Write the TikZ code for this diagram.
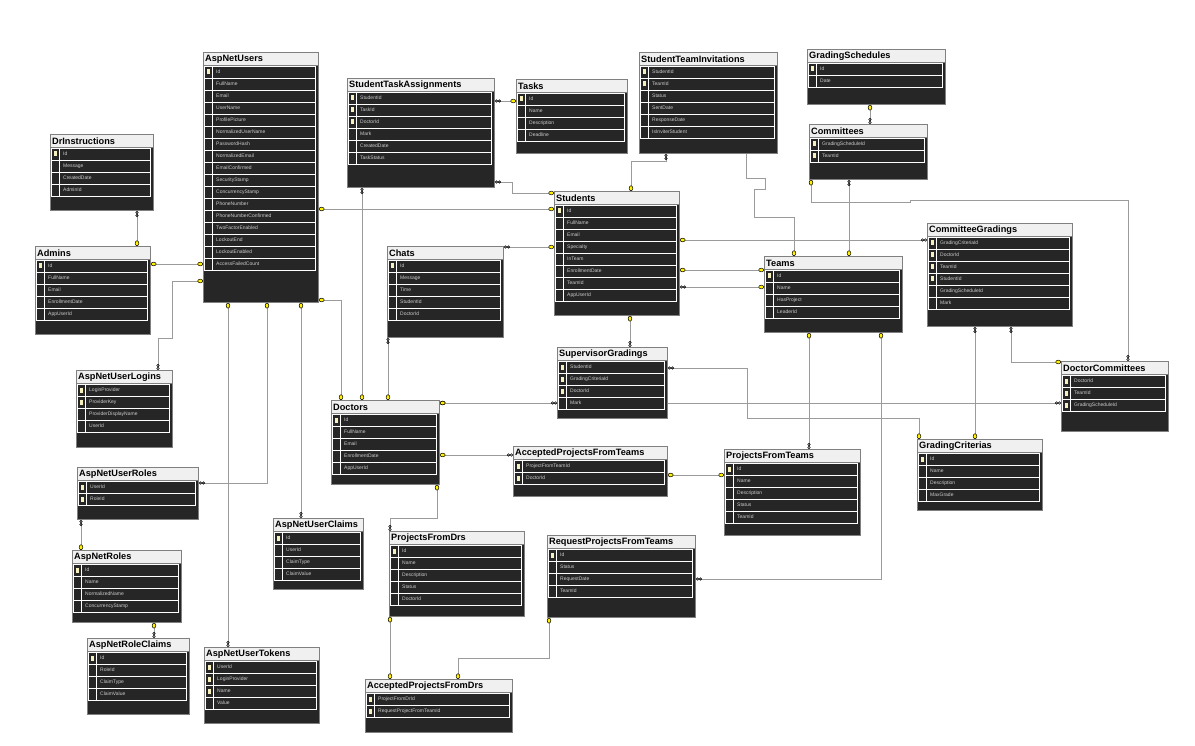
\documentclass[tikz,border=0pt]{standalone}
\usepackage{fontspec}
\setmainfont{Liberation Sans}
\usepackage{tikz}
\usetikzlibrary{arrows.meta, backgrounds}
\definecolor{tblbg}{RGB}{38,38,38}
\definecolor{tblgray}{RGB}{128,128,128}
\definecolor{headbg}{RGB}{240,240,240}
\definecolor{relgray}{RGB}{155,155,155}
\definecolor{rowtxt}{RGB}{205,205,205}
\definecolor{keyfill}{RGB}{245,240,190}
\definecolor{keyyellow}{RGB}{255,240,0}

\tikzset{
  keytip/.tip={Ellipse[length=5.5pt,width=4.2pt,color=black,fill=keyyellow,line width=0.5pt]},
  manytip/.tip={Circle[open,length=3pt,color=black,line width=0.55pt] Circle[open,length=3pt,color=black,line width=0.55pt]}
}

% one database table: name, x, y (top), width, height, title, rows (key/field)
\newcommand{\dbtable}[7]{%
  \node[tblbody, minimum width=#4, minimum height=#5] (#1) at (#2,#3) {};
  \filldraw[tblhead] (#2,#3) rectangle ++(#4,13);
  \node[tbltitle] (#1-t) at (#2+2,#3+7) {#6};
  \foreach \rk/\rn [count=\ri] in {#7} {
    \draw[rowline] (#2+1.5,{#3+14+(\ri-1)*12}) rectangle ++(#4-4,12);
    \draw[rowline] (#2+9.5,{#3+14+(\ri-1)*12}) -- ++(0,12);
    \ifnum\rk=1
      \fill[keyfill] (#2+4,{#3+17.5+(\ri-1)*12}) rectangle ++(3,5);
    \fi
    \node[rowtext] at (#2+13,{#3+20+(\ri-1)*12}) {\rn};
  }
}

\begin{document}
\begin{tikzpicture}[
    x=1pt, y=-1pt,
    tblbody/.style={
        anchor=north west,
        draw=tblgray,
        fill=tblbg,
        line width=0.9pt,
        inner sep=0pt
      },
    tblhead/.style={
        draw=tblgray,
        fill=headbg,
        line width=0.9pt
      },
    tbltitle/.style={
        anchor=west,
        inner sep=0pt,
        font=\fontsize{9.2}{10}\selectfont\bfseries,
        text=black
      },
    rowline/.style={draw=white, line width=0.6pt},
    rowtext/.style={
        anchor=west,
        inner sep=0pt,
        font=\fontsize{5}{6}\selectfont,
        text=rowtxt
      },
    rel/.style={draw=relgray, line width=0.8pt}
  ]
  \useasboundingbox (0,0) rectangle (1195,746);

  % identity tables
  \dbtable{users}{203}{52}{115}{250}{AspNetUsers}{1/Id, 0/FullName, 0/Email, 0/UserName, 0/ProfilePicture, 0/NormalizedUserName, 0/PasswordHash, 0/NormalizedEmail, 0/EmailConfirmed, 0/SecurityStamp, 0/ConcurrencyStamp, 0/PhoneNumber, 0/PhoneNumberConfirmed, 0/TwoFactorEnabled, 0/LockoutEnd, 0/LockoutEnabled, 0/AccessFailedCount}
  \dbtable{logins}{76}{370}{96}{77}{AspNetUserLogins}{1/LoginProvider, 1/ProviderKey, 0/ProviderDisplayName, 0/UserId}
  \dbtable{uroles}{77}{467}{121}{52}{AspNetUserRoles}{1/UserId, 1/RoleId}
  \dbtable{roles}{72}{550}{109}{72}{AspNetRoles}{1/Id, 0/Name, 0/NormalizedName, 0/ConcurrencyStamp}
  \dbtable{rclaims}{87}{638}{102}{76}{AspNetRoleClaims}{1/Id, 0/RoleId, 0/ClaimType, 0/ClaimValue}
  \dbtable{tokens}{204}{647}{115}{76}{AspNetUserTokens}{1/UserId, 1/LoginProvider, 1/Name, 0/Value}
  \dbtable{uclaims}{273}{518}{90}{71}{AspNetUserClaims}{1/Id, 0/UserId, 0/ClaimType, 0/ClaimValue}

  % people
  \dbtable{drinstr}{50}{134}{103}{76}{DrInstructions}{1/Id, 0/Message, 0/CreatedDate, 0/AdminId}
  \dbtable{admins}{35}{246}{115}{88}{Admins}{1/Id, 0/FullName, 0/Email, 0/EnrollmentDate, 0/AppUserId}
  \dbtable{students}{554}{191}{125}{124}{Students}{1/Id, 0/FullName, 0/Email, 0/Specialty, 0/InTeam, 0/EnrollmentDate, 0/TeamId, 0/AppUserId}
  \dbtable{doctors}{331}{400}{108}{84}{Doctors}{1/Id, 0/FullName, 0/Email, 0/EnrollmentDate, 0/AppUserId}
  \dbtable{chats}{387}{246}{116}{91}{Chats}{1/Id, 0/Message, 0/Time, 0/StudentId, 0/DoctorId}

  % tasks and teams
  \dbtable{sta}{347}{78}{147}{109}{StudentTaskAssignments}{1/StudentId, 1/TaskId, 1/DoctorId, 0/Mark, 0/CreatedDate, 0/TaskStatus}
  \dbtable{tasks}{516}{79}{111}{74}{Tasks}{1/Id, 0/Name, 0/Description, 0/Deadline}
  \dbtable{sti}{639}{52}{138}{101}{StudentTeamInvitations}{1/StudentId, 1/TeamId, 0/Status, 0/SentDate, 0/ResponseDate, 0/IsInviterStudent}
  \dbtable{teams}{764}{256}{138}{76}{Teams}{1/Id, 0/Name, 0/HasProject, 0/LeaderId}

  % grading
  \dbtable{gs}{807}{49}{138}{55}{GradingSchedules}{1/Id, 0/Date}
  \dbtable{comm}{809}{124}{118}{55}{Committees}{1/GradingScheduleId, 1/TeamId}
  \dbtable{cg}{927}{223}{145}{103}{CommitteeGradings}{1/GradingCriteriaId, 1/DoctorId, 1/TeamId, 1/StudentId, 0/GradingScheduleId, 0/Mark}
  \dbtable{dc}{1061}{361}{107}{70}{DoctorCommittees}{1/DoctorId, 1/TeamId, 1/GradingScheduleId}
  \dbtable{gc}{917}{439}{125}{71}{GradingCriterias}{1/Id, 0/Name, 0/Description, 0/MaxGrade}
  \dbtable{sg}{557}{347}{110}{71}{SupervisorGradings}{1/StudentId, 1/GradingCriteriaId, 1/DoctorId, 0/Mark}

  % projects
  \dbtable{pft}{724}{449}{136}{86}{ProjectsFromTeams}{1/Id, 0/Name, 0/Description, 0/Status, 0/TeamId}
  \dbtable{apft}{513}{446}{154}{50}{AcceptedProjectsFromTeams}{1/ProjectFromTeamId, 1/DoctorId}
  \dbtable{pfd}{389}{531}{135}{85}{ProjectsFromDrs}{1/Id, 0/Name, 0/Description, 0/Status, 0/DoctorId}
  \dbtable{rpft}{547}{535}{148}{82}{RequestProjectsFromTeams}{1/Id, 0/Status, 0/RequestDate, 0/TeamId}
  \dbtable{apfd}{365}{679}{147}{53}{AcceptedProjectsFromDrs}{1/ProjectFromDrId, 1/RequestProjectFromTeamId}

  \begin{scope}[on background layer]
    \fill[white] (0,0) rectangle (1195,746);
    % identity links
    \draw[rel, manytip-keytip] (137,0 |- drinstr.south) -- (137,0 |- admins.north);
    \draw[rel, keytip-keytip] (admins.east |- 0,264) -- (users.west |- 0,264);
    \draw[rel, keytip-manytip] (users.west |- 0,281) -| (172,338) -| (158,0 |- logins.north);
    \draw[rel, keytip-keytip] (users.east |- 0,209) -- (students.west |- 0,209);
    \draw[rel, keytip-keytip] (users.east |- 0,300) -| (341,0 |- doctors.north);
    \draw[rel, keytip-manytip] (228,0 |- users.south) -- (228,0 |- tokens.north);
    \draw[rel, keytip-manytip] (267,0 |- users.south) |- (uroles.east |- 0,483);
    \draw[rel, keytip-manytip] (301,0 |- users.south) -- (301,0 |- uclaims.north);
    \draw[rel, manytip-keytip] (81,0 |- uroles.south) -- (81,0 |- roles.north);
    \draw[rel, keytip-manytip] (154,0 |- roles.south) -- (154,0 |- rclaims.north);
    % tasks, chats, teams
    \draw[rel, manytip-keytip] (sta.east |- 0,101) -- (tasks.west |- 0,101);
    \draw[rel, manytip-keytip] (sta.east |- 0,182) -| (512,193) -- (students.west |- 0,193);
    \draw[rel, manytip-keytip] (362,0 |- sta.south) -- (362,0 |- doctors.north);
    \draw[rel, manytip-keytip] (388,0 |- chats.south) -- (388,0 |- doctors.north);
    \draw[rel, manytip-keytip] (chats.east |- 0,247) -- (students.west |- 0,247);
    \draw[rel, manytip-keytip] (666,0 |- sti.south) |- (631,161) -- (631,0 |- students.north);
    \draw[rel, -keytip] (746,0 |- sti.south) |- (765,178) |- (754,189) |- (794,217) -- (794,0 |- teams.north);
    \draw[rel, keytip-keytip] (students.east |- 0,270) -- (teams.west |- 0,270);
    \draw[rel, manytip-keytip] (students.east |- 0,287) -- (teams.west |- 0,287);
    % grading links
    \draw[rel, keytip-manytip] (870,0 |- gs.south) -- (870,0 |- comm.north);
    \draw[rel, manytip-keytip] (849,0 |- comm.south) -- (849,0 |- teams.north);
    \draw[rel, keytip-manytip] (811,0 |- comm.south) |- (910,202) |- (1128,200) -- (1128,0 |- dc.north);
    \draw[rel, keytip-manytip] (students.east |- 0,240) -- (cg.west |- 0,240);
    \draw[rel, keytip-manytip] (630,0 |- students.south) -- (630,0 |- sg.north);
    \draw[rel, manytip-keytip] (975,0 |- cg.south) -- (975,0 |- gc.north);
    \draw[rel, manytip-keytip] (1011,0 |- cg.south) |- (dc.west |- 0,362);
    \draw[rel, keytip-manytip] (doctors.east |- 0,403) -- (dc.west |- 0,403);
    \draw[rel, keytip-manytip] (doctors.east |- 0,403) -- (sg.west |- 0,403);
    \draw[rel, manytip-keytip] (sg.east |- 0,368) -| (747,418) -| (919,0 |- gc.north);
    % project links
    \draw[rel, keytip-manytip] (809,0 |- teams.south) -- (809,0 |- pft.north);
    \draw[rel, keytip-manytip] (881,0 |- teams.south) |- (rpft.east |- 0,579);
    \draw[rel, keytip-manytip] (doctors.east |- 0,455) -- (apft.west |- 0,455);
    \draw[rel, keytip-keytip] (apft.east |- 0,475) -- (pft.west |- 0,475);
    \draw[rel, keytip-manytip] (437,0 |- doctors.south) |- (390,518) -- (390,0 |- pfd.north);
    \draw[rel, keytip-keytip] (390,0 |- pfd.south) -- (390,0 |- apfd.north);
    \draw[rel, keytip-keytip] (549,0 |- rpft.south) |- (458,658) -- (458,0 |- apfd.north);
  \end{scope}
\end{tikzpicture}
\end{document}
